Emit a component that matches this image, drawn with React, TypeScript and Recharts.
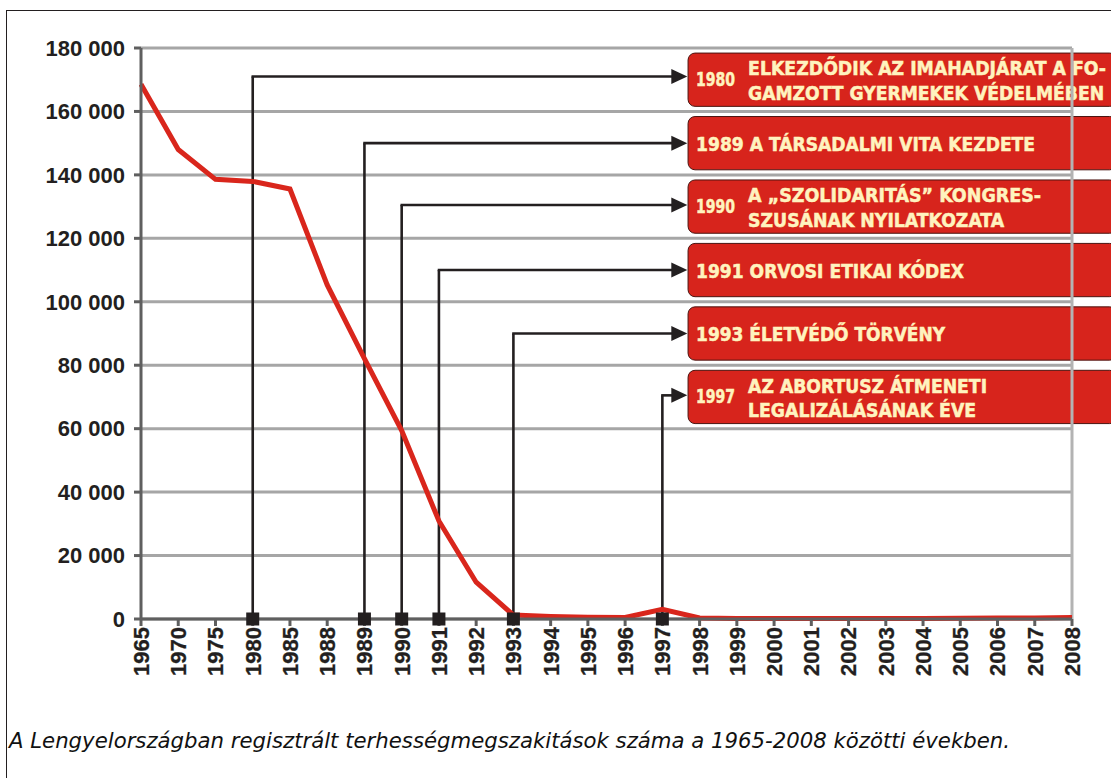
import React from "react";
import {
  LineChart,
  Line,
  XAxis,
  YAxis,
  CartesianGrid,
  ReferenceLine,
  ReferenceArea,
  ReferenceDot,
} from "recharts";

// years on the category axis (index = position on the axis)
const years = [
  "1965", "1970", "1975", "1980", "1985", "1988", "1989", "1990", "1991",
  "1992", "1993", "1994", "1995", "1996", "1997", "1998", "1999", "2000",
  "2001", "2002", "2003", "2004", "2005", "2006", "2007", "2008",
];

// registered abortions
const abortions = [
  168600, 148000, 138600, 137950, 135560, 105300, 82100, 59400, 30900,
  11600, 1240, 782, 570, 505, 3047, 310, 151, 138, 124, 159, 174, 193,
  225, 340, 326, 499,
];

const yTicks = [0, 20000, 40000, 60000, 80000, 100000, 120000, 140000, 160000, 180000];

// events: year marker, height of the connector, text box centre
const eventYears = ["1980", "1989", "1990", "1991", "1993", "1997"];
const eventArrowLevels = [171000, 150000, 130500, 110000, 90000, 70500];
const eventBoxCenters = [170000, 150000, 130000, 110000, 90000, 70000];
const eventTexts: string[][] = [
  ["ELKEZDŐDIK AZ IMAHADJÁRAT A FO-", "GAMZOTT GYERMEKEK VÉDELMÉBEN"],
  ["A TÁRSADALMI VITA KEZDETE"],
  ["A „SZOLIDARITÁS” KONGRES-", "SZUSÁNAK NYILATKOZATA"],
  ["ORVOSI ETIKAI KÓDEX"],
  ["ÉLETVÉDŐ TÖRVÉNY"],
  ["AZ ABORTUSZ ÁTMENETI", "LEGALIZÁLÁSÁNAK ÉVE"],
];
// measured widths of the box text lines
const eventTextWidths: number[][] = [
  [358, 356],
  [339],
  [293, 256],
  [268],
  [249],
  [239, 228],
];

const caption =
  "A Lengyelországban regisztrált terhességmegszakitások száma a 1965-2008 közötti években.";

const data = years.map((y, i) => ({ i, year: y, value: abortions[i] }));

const BOX_LEFT = 14.69; // box left edge on the index axis
const BOX_RIGHT = 26.2;
const BOX_HALF = 8400;

const INK = "#231f20";
const RED = "#d9261c";
const CREAM = "#fff3bf";
const boxFont = "'Liberation Sans Narrow', 'DejaVu Sans Condensed', 'Arial Narrow', sans-serif";
const axisFont = "'Liberation Sans', Arial, sans-serif";

const fmt = (v: number) =>
  v === 0 ? "0" : `${Math.floor(v / 1000)} ${String(v % 1000).padStart(3, "0")}`;

const XTick = (props: any) => {
  const { x, y, payload } = props;
  return (
    <g transform={`translate(${x},${y})`}>
      <text
        transform="rotate(-90)"
        textAnchor="end"
        dy="0.36em"
        fill={INK}
        fontSize={22}
        fontWeight="bold"
        fontFamily={axisFont}
        stroke={INK}
        strokeWidth={0.3}
      >
        {years[payload.value]}
      </text>
    </g>
  );
};

const makeBox = (k: number) => (props: any) => {
  const { x, y, width, height } = props;
  const cy = y + height / 2;
  const lines = eventTexts[k];
  const widths = eventTextWidths[k];
  const common = {
    fill: CREAM,
    stroke: CREAM,
    strokeWidth: 0.5,
    fontSize: 19.5,
    fontWeight: "bold" as const,
    fontFamily: boxFont,
  };
  return (
    <g>
      <rect
        x={x}
        y={y}
        width={width}
        height={height}
        rx={7}
        ry={7}
        fill="#d7241c"
        stroke="#4a1410"
        strokeWidth={1}
      />
      {lines.length === 1 ? (
        <text
          x={x + 8}
          y={cy + 7.5}
          {...common}
          textLength={widths[0]}
          lengthAdjust="spacingAndGlyphs"
        >
          {`${eventYears[k]} ${lines[0]}`}
        </text>
      ) : (
        <g>
          <text x={x + 8} y={cy + 6.5} {...common} textLength={39} lengthAdjust="spacingAndGlyphs">
            {eventYears[k]}
          </text>
          <text
            x={x + 60}
            y={cy - 4.4}
            {...common}
            textLength={widths[0]}
            lengthAdjust="spacingAndGlyphs"
          >
            {lines[0]}
          </text>
          <text
            x={x + 60}
            y={cy + 20.5}
            {...common}
            textLength={widths[1]}
            lengthAdjust="spacingAndGlyphs"
          >
            {lines[1]}
          </text>
        </g>
      )}
    </g>
  );
};

const ArrowShape = (props: any) => {
  const { x1, y1, x2, y2 } = props;
  return (
    <g>
      <line x1={x1 - 1.2} y1={y1} x2={x2 - 14} y2={y2} stroke={INK} strokeWidth={2.6} />
      <polygon
        points={`${x2},${y2} ${x2 - 16},${y2 - 7.5} ${x2 - 16},${y2 + 7.5}`}
        fill={INK}
      />
    </g>
  );
};

const SquareDot = (props: any) => {
  const { cx, cy } = props;
  return <rect x={cx - 6.5} y={cy - 6.5} width={13} height={13} fill={INK} />;
};

export default function App(): React.ReactElement {
  return (
    <div
      style={{
        position: "fixed",
        left: 0,
        top: 0,
        width: 1111,
        height: 778,
        overflow: "hidden",
        background: "#ffffff",
      }}
    >
      <div
        style={{
          position: "absolute",
          left: 6,
          top: 10,
          width: 1200,
          height: 900,
          border: `1.5px solid ${INK}`,
        }}
      />
      <div style={{ position: "absolute", left: 0, top: 0 }}>
        <LineChart
          width={1111}
          height={778}
          data={data}
          margin={{ top: 48, right: 39, bottom: 0, left: 0 }}
        >
          <CartesianGrid vertical={false} stroke="#a6a6a6" strokeWidth={3} />
          <XAxis
            dataKey="i"
            type="number"
            domain={[0, 25]}
            ticks={years.map((_, i) => i)}
            interval={0}
            height={159}
            tickSize={7}
            tickMargin={1}
            stroke="#5f5f5f"
            strokeWidth={3}
            tickLine={{ stroke: "#5f5f5f", strokeWidth: 3 }}
            tick={<XTick />}
          />
          <YAxis
            width={141}
            domain={[0, 180000]}
            ticks={yTicks}
            interval={0}
            tickSize={7}
            tickMargin={9}
            stroke="#5f5f5f"
            strokeWidth={3}
            tickLine={{ stroke: "#5f5f5f", strokeWidth: 3 }}
            tickFormatter={fmt}
            tick={{
              fill: INK,
              fontSize: 22,
              fontWeight: "bold",
              fontFamily: axisFont,
            }}
          />
          <ReferenceLine x={25} stroke="#b3b3b3" strokeWidth={3} />
          {eventYears.map((ey, k) => (
            <ReferenceArea
              key={`box-${ey}`}
              x1={BOX_LEFT}
              x2={BOX_RIGHT}
              y1={eventBoxCenters[k] - BOX_HALF}
              y2={eventBoxCenters[k] + BOX_HALF}
              ifOverflow="visible"
              shape={makeBox(k)}
            />
          ))}
          {eventYears.map((ey, k) => (
            <ReferenceLine
              key={`v-${ey}`}
              segment={[
                { x: years.indexOf(ey), y: 0 },
                { x: years.indexOf(ey), y: eventArrowLevels[k] },
              ]}
              stroke={INK}
              strokeWidth={2.6}
              ifOverflow="visible"
            />
          ))}
          {eventYears.map((ey, k) => (
            <ReferenceLine
              key={`h-${ey}`}
              segment={[
                { x: years.indexOf(ey), y: eventArrowLevels[k] },
                { x: BOX_LEFT - 0.02, y: eventArrowLevels[k] },
              ]}
              ifOverflow="visible"
              shape={ArrowShape}
            />
          ))}
          {eventYears.map((ey) => (
            <ReferenceDot
              key={`d-${ey}`}
              x={years.indexOf(ey)}
              y={0}
              r={6}
              ifOverflow="visible"
              shape={SquareDot}
            />
          ))}
          <Line
            type="linear"
            dataKey="value"
            stroke={RED}
            strokeWidth={5}
            dot={false}
            activeDot={false}
            isAnimationActive={false}
          />
        </LineChart>
      </div>
      <svg
        width={1111}
        height={778}
        style={{ position: "absolute", left: 0, top: 0, pointerEvents: "none" }}
      >
        <text
          x={9}
          y={748}
          fontSize={21.5}
          fontStyle="italic"
          fill="#111111"
          fontFamily="'DejaVu Sans Condensed', 'DejaVu Sans', sans-serif"
          textLength={1001}
          lengthAdjust="spacingAndGlyphs"
        >
          {caption}
        </text>
      </svg>
    </div>
  );
}
